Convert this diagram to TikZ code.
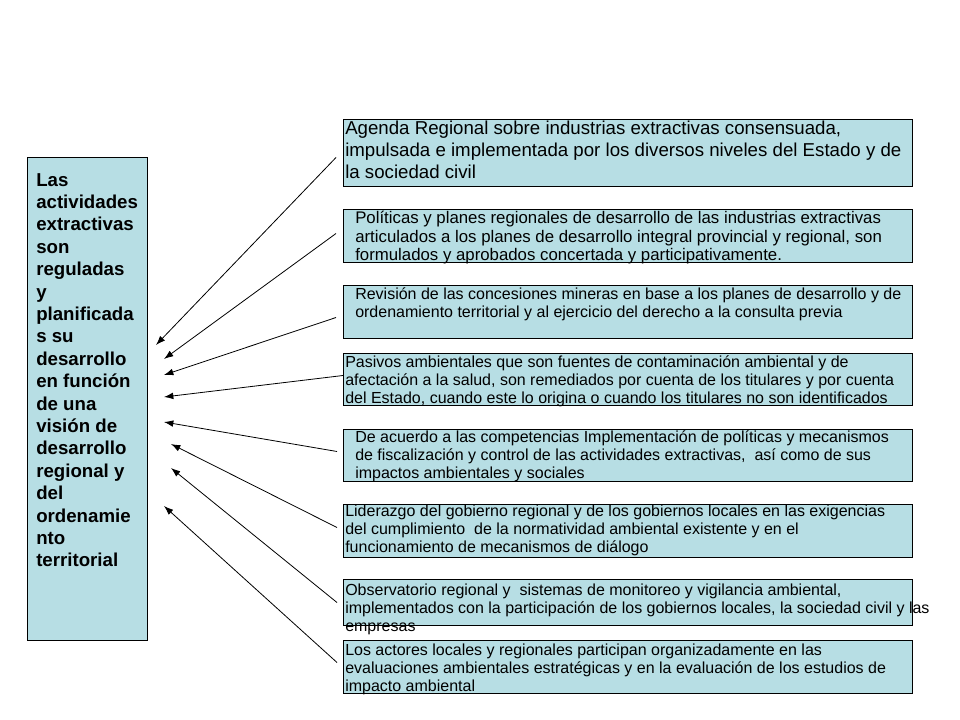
\documentclass[tikz,border=0pt]{standalone}
\usepackage{fontspec}
\setmainfont{Liberation Sans}
\usetikzlibrary{arrows.meta,positioning}
\definecolor{boxcyan}{RGB}{183,222,228}

\begin{document}
\begin{tikzpicture}[x=0.75pt, y=-0.75pt,
    panel/.style={draw, fill=boxcyan, line width=0.75pt, inner sep=0pt, anchor=north west, minimum width=426.75pt},
    boxtext/.style={anchor=north west, inner sep=0pt, align=left, font=\fontsize{12}{13.5}\selectfont},
    arr/.style={-{Latex[length=7pt, width=5pt]}, line width=0.6pt}]
  \useasboundingbox (0,0) rectangle (960,720);

  % left box
  \node[panel, minimum width=90pt, minimum height=362.25pt] (goal) at (27,157) {};
  \node[boxtext, font=\bfseries\fontsize{14}{16.8}\selectfont] (goaltext) at (36,173)
    {Las\\ actividades\\ extractivas\\ son\\ reguladas\\ y\\ planificada\\ s su\\ desarrollo\\ en funci\'on\\ de una\\ visi\'on de\\ desarrollo\\ regional y\\ del\\ ordenamie\\ nto\\ territorial};

  % right boxes
  \node[panel, minimum height=50.25pt] (b1) at (343,119) {};
  \node[panel, minimum height=39.75pt] (b2) at (343,209) {};
  \node[panel, minimum height=39.75pt] (b3) at (343,285) {};
  \node[panel, minimum height=39pt] (b4) at (343,353) {};
  \node[panel, minimum height=39pt] (b5) at (343,429) {};
  \node[panel, minimum height=39.75pt] (b6) at (343,504) {};
  \node[panel, minimum height=34.5pt] (b7) at (343,579) {};
  \node[panel, minimum height=39.75pt] (b8) at (343,640) {};

  \node[boxtext, font=\fontsize{14}{16.4}\selectfont] (t1) at (345,121)
    {Agenda Regional sobre industrias extractivas consensuada,\\ impulsada e implementada por los diversos niveles del Estado y de\\ la sociedad civil};
  \node[boxtext, font=\fontsize{12.6}{14}\selectfont] (t2) at (355,211)
    {Pol\'iticas y planes regionales de desarrollo de las industrias extractivas\\ articulados a los planes de desarrollo integral provincial y regional, son\\ formulados y aprobados concertada y participativamente.};
  \node[boxtext] (t3) at (355,287)
    {Revisi\'on de las concesiones mineras en base a los planes de desarrollo y de\\ ordenamiento territorial y al ejercicio del derecho a la consulta previa};
  \node[boxtext] (t4) at (345,355)
    {Pasivos ambientales que son fuentes de contaminaci\'on ambiental y de\\ afectaci\'on a la salud, son remediados por cuenta de los titulares y por cuenta\\ del Estado, cuando este lo origina o cuando los titulares no son identificados};
  \node[boxtext] (t5) at (355,430)
    {De acuerdo a las competencias Implementaci\'on de pol\'iticas y mecanismos\\ de fiscalizaci\'on y control de las actividades extractivas,\ \ as\'i como de sus\\ impactos ambientales y sociales};
  \node[boxtext] (t6) at (345,505)
    {Liderazgo del gobierno regional y de los gobiernos locales en las exigencias\\ del cumplimiento\ \ de la normatividad ambiental existente y en el\\ funcionamiento de mecanismos de di\'alogo};
  \node[boxtext] (t7) at (345,584)
    {Observatorio regional y\ \ sistemas de monitoreo y vigilancia ambiental,\\ implementados con la participaci\'on de los gobiernos locales, la sociedad civil y las\\ empresas};
  \node[boxtext] (t8) at (345,644)
    {Los actores locales y regionales participan organizadamente en las\\ evaluaciones ambientales estrat\'egicas y en la evaluaci\'on de los estudios de\\ impacto ambiental};

  % arrows towards the left box
  \foreach \i/\dx/\dy/\tx/\ty in {1/-7/4.5/156/345, 2/-7/-2.5/164/359, 3/-7/5.5/164/375, 4/0/-4/164/397,
      5/-6/-4/164/422, 6/-6/-3.5/171/444, 7/-6/0/171/468, 8/-6/-4.5/164/506} {
    \coordinate (tip\i) at (\tx,\ty);
    \draw[arr] ([shift={(\dx,\dy)}]b\i.west) -- (tip\i);
  }
\end{tikzpicture}
\end{document}
